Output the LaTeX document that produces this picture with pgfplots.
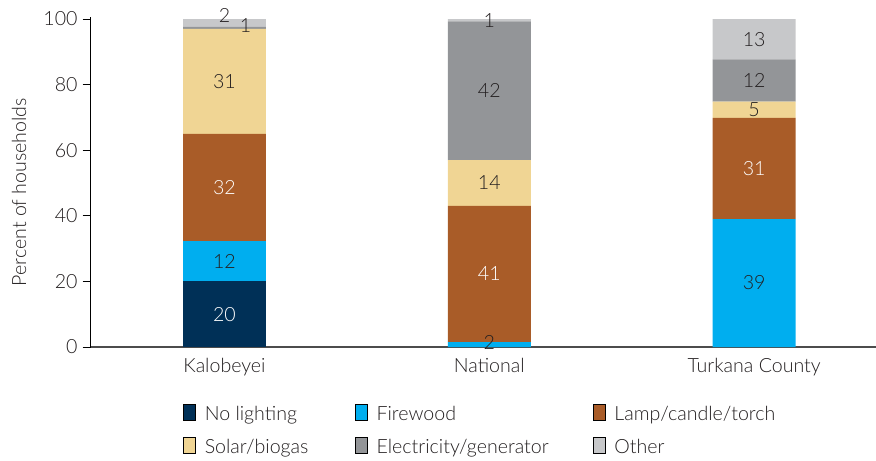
\documentclass[border=0pt]{standalone}
\usepackage{pgfplots}
\pgfplotsset{compat=1.18}
\usepackage{pgfplotstable}
\usepackage{fontspec}
\setmainfont{Lato Light}
\definecolor{cNone}{RGB}{0,48,87}
\definecolor{cFire}{RGB}{0,174,239}
\definecolor{cLamp}{RGB}{169,92,40}
\definecolor{cSolar}{RGB}{240,213,148}
\definecolor{cElec}{RGB}{147,149,152}
\definecolor{cOther}{RGB}{199,200,202}
\definecolor{txt}{RGB}{35,31,32}

\pgfplotstableread{
x y lab dx dy
0 20 20 0 0
1 0 {} 0 0
2 0 {} 0 0
}\tNone
\pgfplotstableread{
x y lab dx dy
0 12.3 12 0 0
1 1.5 2 0 0.5
2 39 39 0 0
}\tFire
\pgfplotstableread{
x y lab dx dy
0 32.7 32 0 0
1 41.5 41 0 0
2 30.9 31 0 0
}\tLamp
\pgfplotstableread{
x y lab dx dy
0 32 31 0 0
1 14 14 0 0
2 4.9 5 0 0
}\tSolar
\pgfplotstableread{
x y lab dx dy
0 0.7 1 10.5 0.6
1 42.3 42 0 0
2 12.9 12 0 0
}\tElec
\pgfplotstableread{
x y lab dx dy
0 2.3 2 0 2.1
1 0.7 1 0 0
2 12.3 13 0 0
}\tOther

\pgfplotsset{
  /pgfplots/ybar legend/.style={
    /pgfplots/legend image code/.code={
      \fill[##1] (0pt,-0.4pt) rectangle (6.5pt,6.1pt);
    }
  }
}

\begin{document}
\begin{tikzpicture}[font=\fontsize{9.8}{11.5}\selectfont, text=txt]
\path[use as bounding box] (-45.35pt,-56.5pt) rectangle (392.65pt,173.5pt);
\begin{axis}[
  at={(0pt,0pt)}, anchor=south west,
  scale only axis, width=392.65pt, height=164.8pt,
  ybar stacked, bar width=0.313,
  xmin=-0.505, xmax=2.46, ymin=0, ymax=100.5,
  xtick={0,1,2}, xticklabels={Kalobeyei,National,Turkana County},
  ytick={0,20,40,60,80,100},
  axis x line*=bottom, axis y line*=left,
  x axis line style={draw=black!70, line width=0.8pt},
  y axis line style={draw=black, line width=0.5pt},
  xtick style={draw=none},
  ytick style={draw=black, line width=0.5pt},
  tick align=outside, major tick length=4pt,
  /pgf/number format/assume math mode=true,
  ticklabel style={font=\fontsize{9.8}{11.5}\selectfont, text=txt},
  yticklabel style={inner xsep=2.4pt},
  xticklabel style={yshift=2pt},
  ylabel={Percent of households},
  every axis y label/.style={at={(axis description cs:-0.0913,0.47)}, rotate=90, anchor=center, font=\fontsize{9.8}{11.5}\selectfont, text=txt},
  nodes near coords,
  point meta=explicit symbolic,
  visualization depends on={\thisrow{dx} \as \dxv},
  visualization depends on={\thisrow{dy} \as \dyv},
  every node near coord/.append style={anchor=center, font=\fontsize{9.8}{11.5}\selectfont, shift={(axis direction cs:0,\dyv)}, xshift=\dxv pt},
  legend columns=3,
  legend cell align=left,
  legend style={at={(0.117,-0.172)}, anchor=north west, draw=none, fill=none, inner sep=0pt,
    column sep=0pt, row sep=6.2pt,
    nodes={inner sep=0pt, text height=6pt, text depth=1.8pt, font=\fontsize{9.8}{11.5}\selectfont, text=txt}},
]
\addplot[fill=cNone, draw=none, every node near coord/.append style={text=white}] table[x=x,y=y,meta=lab]{\tNone};
\addplot[fill=cFire, draw=none, every node near coord/.append style={text=txt}] table[x=x,y=y,meta=lab]{\tFire};
\addplot[fill=cLamp, draw=none, every node near coord/.append style={text=white}] table[x=x,y=y,meta=lab]{\tLamp};
\addplot[fill=cSolar, draw=none, every node near coord/.append style={text=txt}] table[x=x,y=y,meta=lab]{\tSolar};
\addplot[fill=cElec, draw=none, every node near coord/.append style={text=txt}] table[x=x,y=y,meta=lab]{\tElec};
\addplot[fill=cOther, draw=none, every node near coord/.append style={text=txt}] table[x=x,y=y,meta=lab]{\tOther};
\addlegendentry{\hspace*{4.5pt}\makebox[75pt][l]{No lighting}}
\addlegendentry{\hspace*{4.5pt}\makebox[108pt][l]{Firewood}}
\addlegendentry{\hspace*{4.5pt}Lamp/candle/torch}
\addlegendentry{\hspace*{4.5pt}Solar/biogas}
\addlegendentry{\hspace*{4.5pt}Electricity/generator}
\addlegendentry{\hspace*{4.5pt}Other}
\end{axis}
\end{tikzpicture}
\end{document}
